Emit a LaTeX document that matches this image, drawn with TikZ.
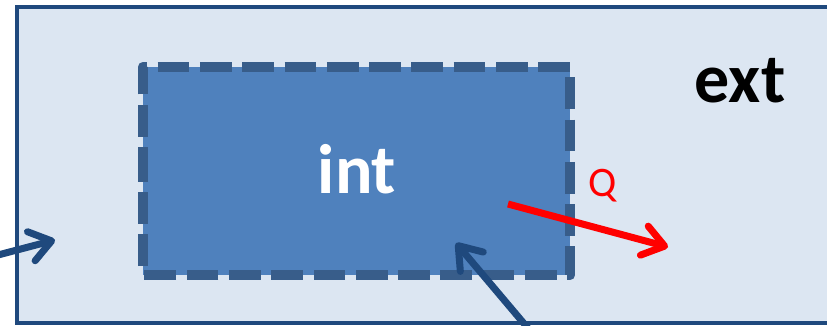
\documentclass[tikz,border=0pt]{standalone}
\usepackage{fontspec}
\setmainfont{Carlito}
\usetikzlibrary{arrows.meta}
\definecolor{extfill}{HTML}{DCE6F2}
\definecolor{navy}{HTML}{1F497D}
\definecolor{intfill}{HTML}{4F81BD}
\definecolor{intline}{HTML}{385D8A}
\definecolor{heatred}{HTML}{FF0000}
\tikzset{
  extbox/.style={fill=extfill, inner sep=0pt},
  extborder/.style={draw=navy, line width=4.5pt, line join=miter},
  intbox/.style={fill=intfill, inner sep=0pt},
  intborder/.style={draw=intline, line width=10pt, line join=round,
                    dash pattern=on 31.7pt off 10.6pt, dash phase=7.9pt},
  biglabel/.style={font=\fontsize{70}{84}\selectfont\bfseries, inner sep=0pt, anchor=base},
  flowarrow/.style={line width=7pt, -{Straight Barb[round, length=21pt, width=30pt]}},
}
\begin{document}
\begin{tikzpicture}[x=1pt, y=-1pt]
\fill[white] (0,0) rectangle (827,325);
\useasboundingbox (0,0) rectangle (827,325);
\begin{scope}
\clip (0,0) rectangle (827,325);

% surroundings, running on past the right side
\node[extbox, minimum width=983pt, minimum height=316pt] (extbox) at (508.5,165) {};
\draw[extborder] (extbox.north east) -- (extbox.north west) -- (extbox.south west)
  -- (extbox.south east);

% the system, with its dashed boundary traced clockwise from the middle of the left side
\node[intbox, minimum width=427pt, minimum height=208pt] (intbox) at (356.5,171) {};
\draw[intborder] (intbox.west) -- (intbox.north west) -- (intbox.north east)
  -- (intbox.south east) -- (intbox.south west) -- cycle;

\node[biglabel, text=white] (intlabel) at (357,193) {int};
\node[biglabel, text=black] (extlabel) at (740,102) {ext};
\node[font=\fontsize{42}{50}\selectfont, text=heatred, inner sep=0pt, anchor=base] (qlabel) at (603,196) {Q};

% end points of the flows
\coordinate (leftin) at (-40,265);
\coordinate (lefttip) at (55,240);
\coordinate (bottomin) at (548,352);
\coordinate (bottomtip) at (456,243);
\coordinate (heatout) at (508,204);
\coordinate (heattip) at (668,247);

\draw[flowarrow, draw=navy] (leftin) -- (lefttip);
\draw[flowarrow, draw=navy] (bottomin) -- (bottomtip);
\draw[flowarrow, draw=heatred] (heatout) -- (heattip);
\end{scope}
\end{tikzpicture}
\end{document}
